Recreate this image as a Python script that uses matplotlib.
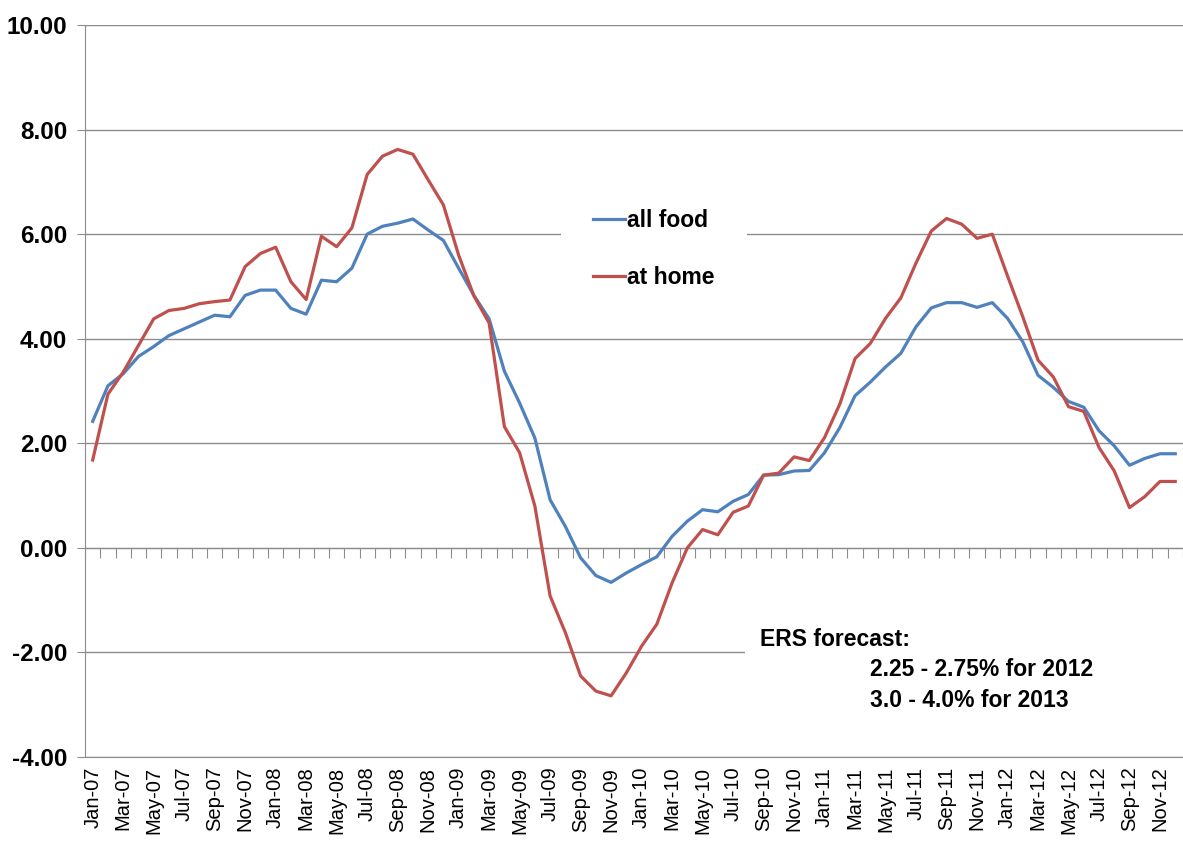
import matplotlib
matplotlib.use("Agg")
import matplotlib.pyplot as plt
import numpy as np
from matplotlib.patches import Rectangle

plt.rcParams["font.family"] = ["Liberation Sans", "DejaVu Sans"]
plt.rcParams["axes.unicode_minus"] = False

MONTHS = ["Jan", "Feb", "Mar", "Apr", "May", "Jun",
          "Jul", "Aug", "Sep", "Oct", "Nov", "Dec"]
YEARS = ["07", "08", "09", "10", "11", "12"]
month_labels = [f"{m}-{y}" for y in YEARS for m in MONTHS]

# CPI year-over-year % change, Jan-07 .. Dec-12
all_food = [
    2.42, 3.10, 3.33, 3.66, 3.85, 4.06, 4.19, 4.32, 4.45, 4.42, 4.83, 4.93,
    4.93, 4.58, 4.47, 5.12, 5.09, 5.35, 6.00, 6.15, 6.21, 6.29, 6.08, 5.88,
    5.35, 4.83, 4.38, 3.38, 2.77, 2.10, 0.92, 0.41, -0.19, -0.53, -0.66, -0.48,
    -0.32, -0.17, 0.22, 0.51, 0.73, 0.69, 0.89, 1.02, 1.39, 1.40, 1.47, 1.48,
    1.82, 2.30, 2.91, 3.17, 3.46, 3.72, 4.23, 4.59, 4.69, 4.69, 4.60, 4.69,
    4.39, 3.94, 3.30, 3.07, 2.80, 2.69, 2.24, 1.95, 1.58, 1.71, 1.80, 1.80,
]
at_home = [
    1.68, 2.94, 3.36, 3.87, 4.38, 4.54, 4.58, 4.67, 4.71, 4.74, 5.38, 5.63,
    5.75, 5.09, 4.75, 5.96, 5.76, 6.12, 7.14, 7.49, 7.62, 7.53, 7.04, 6.56,
    5.60, 4.82, 4.30, 2.32, 1.82, 0.80, -0.92, -1.62, -2.45, -2.74, -2.83, -2.39,
    -1.88, -1.46, -0.67, 0.00, 0.35, 0.25, 0.68, 0.80, 1.39, 1.43, 1.74, 1.67,
    2.11, 2.75, 3.62, 3.91, 4.39, 4.78, 5.45, 6.06, 6.30, 6.19, 5.92, 6.00,
    5.20, 4.42, 3.59, 3.27, 2.70, 2.61, 1.92, 1.47, 0.77, 0.98, 1.27, 1.27,
]
y_ticks = [-4, -2, 0, 2, 4, 6, 8, 10]
forecast_lines = ["ERS forecast:", "2.25 - 2.75% for 2012", "3.0 - 4.0% for 2013"]

GRID = "#8c8c8c"

fig = plt.figure(figsize=(11.83, 8.57), dpi=100)
ax = fig.add_axes([0.0719, 0.1167, 0.928, 0.8541])

x = np.arange(len(month_labels))
ax.plot(x, all_food, color="#4F81BD", lw=2.3, label="all food", zorder=3)
ax.plot(x, at_home, color="#C0504D", lw=2.3, label="at home", zorder=3)

ax.set_xlim(-0.5, len(month_labels) - 0.5)
ax.set_ylim(-4, 10)
ax.set_yticks(y_ticks)
ax.set_yticklabels([f"{v:.2f}" for v in y_ticks], fontsize=17.5, fontweight="bold")
ax.yaxis.grid(True, color=GRID, lw=1)
ax.set_axisbelow(True)
ax.tick_params(axis="y", length=6, color=GRID, pad=7)

ax.set_xticks(x[::2])
ax.set_xticklabels(month_labels[::2], rotation=90, fontsize=14.5)
ax.tick_params(axis="x", length=0, pad=7)

for s in ("top", "right"):
    ax.spines[s].set_visible(False)
ax.spines["left"].set_color(GRID)
ax.spines["bottom"].set_color(GRID)

# category axis crossing at zero, tick marks at category boundaries
zero_ax = ax.secondary_xaxis(4 / 14)
zero_ax.set_xticks(np.arange(len(month_labels) + 1) - 0.5)
zero_ax.set_xticklabels([])
zero_ax.tick_params(length=7, color=GRID, direction="out")
zero_ax.spines["bottom"].set_color(GRID)

leg = ax.legend(loc="center", bbox_to_anchor=(0.5527, 0.7095),
                bbox_transform=fig.transFigure, frameon=True, fancybox=False,
                edgecolor="none", framealpha=1, handlelength=1.4,
                handletextpad=0.1, labelspacing=1.5, borderpad=1.4,
                prop={"size": 16.5, "weight": "bold"})

# white box behind the forecast note (hides the -2 gridline)
ax.add_patch(Rectangle((0.601, 0.07), 0.4, 0.2, transform=ax.transAxes,
                       facecolor="white", edgecolor="none", zorder=1))
ax.text(0.615, 0.161, forecast_lines[0], transform=ax.transAxes,
        fontsize=16.5, fontweight="bold", va="center", zorder=4)
ax.text(0.715, 0.119, forecast_lines[1], transform=ax.transAxes,
        fontsize=16.5, fontweight="bold", va="center", zorder=4)
ax.text(0.715, 0.077, forecast_lines[2], transform=ax.transAxes,
        fontsize=16.5, fontweight="bold", va="center", zorder=4)

fig.savefig("out.png", dpi=100)
